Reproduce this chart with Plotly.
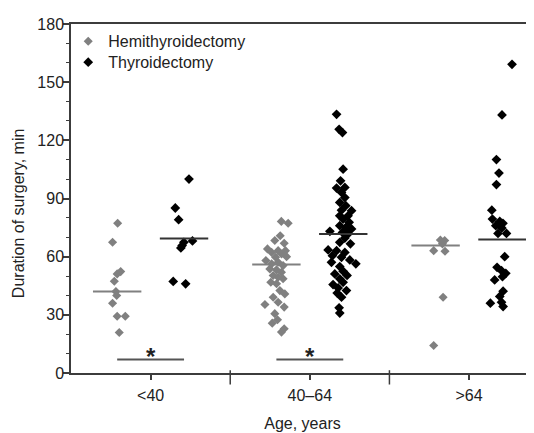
import plotly.graph_objects as go

categories = ["<40", "40–64", ">64"]

# values, with horizontal scatter offsets (category units)
hemi_lt40 = [77.2, 67.4, 52.3, 51.1, 47.3, 42.0, 40.0, 36.0, 29.3, 29.3, 20.9]
hemi_lt40_dx = [-0.207, -0.239, -0.188, -0.210, -0.228, -0.218, -0.213, -0.239, -0.210, -0.159, -0.197]
thyro_lt40 = [100.0, 85.1, 79.1, 68.1, 67.4, 65.7, 64.5, 47.2, 46.0]
thyro_lt40_dx = [0.241, 0.155, 0.176, 0.263, 0.209, 0.198, 0.190, 0.142, 0.220]

hemi_40_64 = [78.2, 77.2, 70.8, 68.3, 66.9, 64.0, 63.1, 63.1, 62.2, 61.4, 59.7, 60.0,
              58.0, 57.1, 56.3, 55.4, 53.7, 53.2, 52.0, 50.3, 49.4, 48.6, 46.8, 46.0,
              42.5, 40.8, 39.1, 35.3, 36.5, 34.0, 30.6, 25.7, 27.5, 21.1, 22.8]
hemi_40_64_dx = [-0.179, -0.136, -0.186, -0.220, -0.161, -0.266, -0.199, -0.153, -0.240,
                 -0.178, -0.215, -0.146, -0.276, -0.199, -0.240, -0.168, -0.251, -0.209,
                 -0.178, -0.230, -0.199, -0.168, -0.245, -0.209, -0.188, -0.157, -0.230,
                 -0.282, -0.199, -0.161, -0.220, -0.236, -0.203, -0.178, -0.161]
thyro_40_64 = [133.4, 125.7, 124.0, 105.1, 99.1, 95.4, 95.7, 93.1, 90.5, 88.0, 86.3, 84.0,
               83.7, 81.1, 81.1, 79.4, 77.7, 76.0, 75.1, 74.3, 73.1, 72.5, 71.7, 69.6,
               67.4, 66.6, 63.5, 63.1, 62.2, 60.5, 59.7, 58.3, 57.1, 56.3, 54.9, 52.5,
               51.1, 50.3, 48.6, 46.8, 45.6, 43.9, 42.5, 41.2, 39.1, 33.6, 30.9]
thyro_40_64_dx = [0.168, 0.184, 0.205, 0.209, 0.193, 0.168, 0.220, 0.199, 0.220, 0.188,
                  0.226, 0.199, 0.262, 0.188, 0.240, 0.209, 0.247, 0.188, 0.226, 0.262,
                  0.126, 0.205, 0.240, 0.220, 0.188, 0.255, 0.115, 0.168, 0.220, 0.142,
                  0.199, 0.251, 0.136, 0.289, 0.188, 0.209, 0.157, 0.234, 0.188, 0.209,
                  0.146, 0.178, 0.230, 0.172, 0.199, 0.184, 0.188]

hemi_gt64 = [68.6, 68.3, 66.6, 63.1, 62.8, 39.1, 14.2]
hemi_gt64_dx = [-0.180, -0.153, -0.167, -0.222, -0.151, -0.163, -0.222]
thyro_gt64 = [159.2, 133.1, 110.1, 103.1, 97.2, 84.0, 79.4, 78.2, 77.2, 76.0, 74.8, 72.0,
              72.0, 60.0, 54.5, 52.8, 51.4, 49.7, 48.0, 42.2, 39.5, 36.0, 36.5, 34.3]
thyro_gt64_dx = [0.270, 0.207, 0.172, 0.188, 0.172, 0.143, 0.147, 0.193, 0.213, 0.168,
                 0.206, 0.182, 0.235, 0.224, 0.176, 0.204, 0.231, 0.210, 0.161, 0.214,
                 0.193, 0.134, 0.204, 0.214]

hemi_center = [42.0, 55.9, 65.7]
thyro_center = [69.4, 71.7, 68.8]
significant = ["<40", "40–64"]
sig_level = 6.9

GRAY = "#808080"
AXIS = "#3c3c3c"
TEXT = "#222222"
SIDE = 0.21      # half distance between the two strips
HALF = 0.152     # half length of the centre lines

hemi = [(hemi_lt40, hemi_lt40_dx), (hemi_40_64, hemi_40_64_dx), (hemi_gt64, hemi_gt64_dx)]
thyro = [(thyro_lt40, thyro_lt40_dx), (thyro_40_64, thyro_40_64_dx), (thyro_gt64, thyro_gt64_dx)]


def strip(groups):
    xs, ys = [], []
    for i, (vals, dx) in enumerate(groups, start=1):
        xs += [i + d for d in dx]
        ys += vals
    return xs, ys


def centre_lines(centres, side):
    xs, ys = [], []
    for i, v in enumerate(centres, start=1):
        xs += [i + side - HALF, i + side + HALF, None]
        ys += [v, v, None]
    return xs, ys


fig = go.Figure()

hx, hy = strip(hemi)
tx, ty = strip(thyro)
fig.add_trace(go.Scatter(x=hx, y=hy, mode="markers", name="Hemithyroidectomy", legend="legend",
                         marker={"symbol": "diamond", "size": 7, "color": GRAY}))
fig.add_trace(go.Scatter(x=tx, y=ty, mode="markers", name="Thyroidectomy", legend="legend2",
                         marker={"symbol": "diamond", "size": 7.5, "color": "black"}))

lx, ly = centre_lines(hemi_center, -SIDE)
fig.add_trace(go.Scatter(x=lx, y=ly, mode="lines", showlegend=False,
                         line={"color": GRAY, "width": 2}, hoverinfo="skip"))
lx, ly = centre_lines(thyro_center, SIDE)
fig.add_trace(go.Scatter(x=lx, y=ly, mode="lines", showlegend=False,
                         line={"color": "#333333", "width": 2}, hoverinfo="skip"))

# significance bars between the two strips
sx, sy = [], []
for cat in significant:
    i = categories.index(cat) + 1
    sx += [i - SIDE, i + SIDE, None]
    sy += [sig_level, sig_level, None]
    fig.add_annotation(x=i, y=sig_level, text="<b>*</b>", showarrow=False, yanchor="bottom",
                       font={"size": 24, "color": TEXT}, yshift=-12)
fig.add_trace(go.Scatter(x=sx, y=sy, mode="lines", showlegend=False,
                         line={"color": "#555555", "width": 2}, hoverinfo="skip"))

# group separators crossing the x axis
for i in range(1, len(categories)):
    fig.add_shape(type="line", x0=i + 0.5, x1=i + 0.5, xref="x", yref="y domain",
                  y0=-0.033, y1=0.008, line={"color": AXIS, "width": 1.5})

# y title placed as annotation: it sits a little below the plot centre
fig.add_annotation(text="Duration of surgery, min", xref="paper", yref="paper",
                   x=-0.1145, y=0.458, xanchor="center", yanchor="middle",
                   textangle=-90, showarrow=False, font={"size": 16, "color": TEXT})

fig.update_xaxes(
    range=[0.5, 3.408],
    tickvals=[1, 2, 3],
    ticktext=categories,
    ticks="outside",
    ticklen=5,
    tickwidth=1.5,
    tickcolor=AXIS,
    ticklabelstandoff=2,
    showline=True,
    linecolor=AXIS,
    linewidth=1.5,
    mirror=True,
    showgrid=False,
    zeroline=False,
    tickfont={"size": 16, "color": TEXT},
    title={"text": "Age, years", "font": {"size": 16, "color": TEXT}, "standoff": 15},
)
fig.update_yaxes(
    range=[0, 180],
    tickvals=[0, 30, 60, 90, 120, 150, 180],
    ticks="outside",
    ticklen=6,
    tickwidth=1.5,
    tickcolor=AXIS,
    ticklabelstandoff=-4,
    minor={"dtick": 10, "ticks": "outside", "ticklen": 3, "tickcolor": AXIS, "tickwidth": 1},
    showline=True,
    linecolor=AXIS,
    linewidth=1.5,
    showgrid=False,
    zeroline=False,
    tickfont={"size": 16, "color": TEXT},
)
legend_style = {"xanchor": "left", "yanchor": "top", "bgcolor": "rgba(0,0,0,0)",
                "font": {"size": 16, "color": TEXT}}
fig.update_layout(
    width=534,
    height=433,
    margin={"l": 63, "r": 8, "t": 14, "b": 68},
    paper_bgcolor="white",
    plot_bgcolor="white",
    font={"family": "Liberation Sans, Arial, sans-serif", "color": TEXT},
    legend={**legend_style, "x": -0.006, "y": 0.999},
    legend2={**legend_style, "x": -0.006, "y": 0.939},
)

fig.write_html("out.html")
